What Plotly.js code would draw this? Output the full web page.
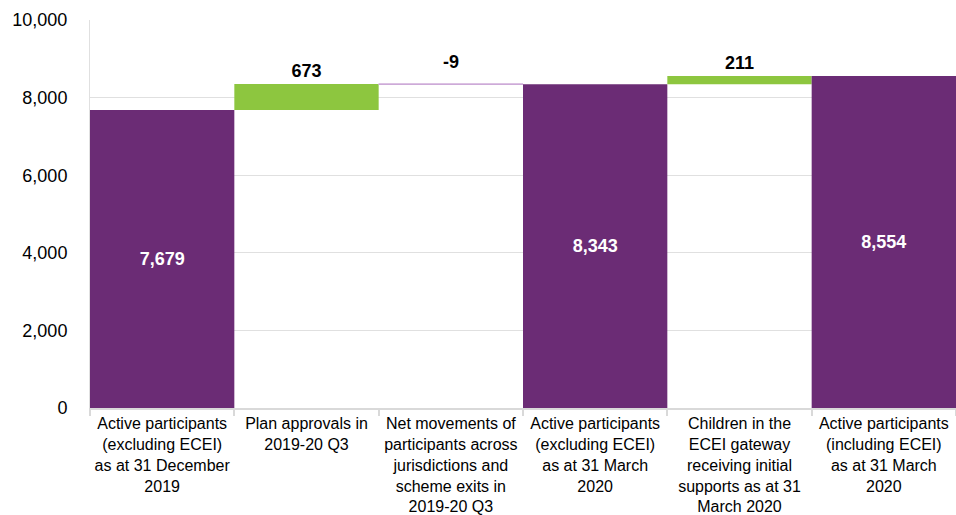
<!DOCTYPE html>
<html>
<head>
<meta charset="utf-8">
<script src="https://cdn.plot.ly/plotly-3.0.1.min.js"></script>
<style>html,body{margin:0;padding:0;background:#fff;}#chart{width:956px;height:515px;}</style>
</head>
<body>
<div id="chart"></div>
<script>
const categories = [
  "Active participants<br>(excluding ECEI)<br>as at 31 December<br>2019",
  "Plan approvals in<br>2019-20 Q3",
  "Net movements of<br>participants across<br>jurisdictions and<br>scheme exits in<br>2019-20 Q3",
  "Active participants<br>(excluding ECEI)<br>as at 31 March<br>2020",
  "Children in the<br>ECEI gateway<br>receiving initial<br>supports as at 31<br>March 2020",
  "Active participants<br>(including ECEI)<br>as at 31 March<br>2020"
];
const measures = ["absolute", "relative", "relative", "total", "relative", "total"];
const values = [7679, 673, -9, 0, 211, 0];
const labels = ["7,679", "673", "-9", "8,343", "211", "8,554"];

// running level before each bar (used to place the label of the decrease above its bar)
const startLevels = [];
let run = 0;
for (let i = 0; i < values.length; i++) {
  startLevels.push(run);
  if (measures[i] === "absolute") run = values[i];
  else if (measures[i] === "relative") run += values[i];
}

const textPositions = measures.map((m) => (m === "relative" ? "outside" : "inside"));
const barText = labels.map((t, i) => (values[i] < 0 ? "" : t));

const FONT = "Liberation Sans, Arial, sans-serif";

const trace = {
  type: "waterfall",
  x: categories,
  y: values,
  measure: measures,
  text: barText,
  textinfo: "text",
  textposition: textPositions,
  insidetextanchor: "middle",
  insidetextfont: {family: FONT, size: 18, color: "#ffffff", weight: "bold"},
  outsidetextfont: {family: FONT, size: 18, color: "#000000", weight: "bold"},
  textfont: {family: FONT, size: 18, weight: "bold"},
  cliponaxis: false,
  increasing: {marker: {color: "#8dc63f"}},
  decreasing: {marker: {color: "#c9a3d4", line: {color: "#c9a3d4", width: 1}}},
  totals: {marker: {color: "#6b2c75"}},
  connector: {visible: false},
  hoverinfo: "none"
};

const annotations = [];
values.forEach((v, i) => {
  if (measures[i] === "relative" && v < 0) {
    annotations.push({
      x: categories[i],
      y: startLevels[i],
      xref: "x",
      yref: "y",
      text: labels[i],
      showarrow: false,
      yanchor: "bottom",
      yshift: 10,
      font: {family: FONT, size: 18, color: "#000000", weight: "bold"}
    });
  }
});

const layout = {
  width: 956,
  height: 515,
  margin: {l: 90, r: 0, t: 20, b: 107},
  paper_bgcolor: "#ffffff",
  plot_bgcolor: "#ffffff",
  showlegend: false,
  waterfallgap: 0,
  font: {family: FONT, size: 16, color: "#000000"},
  annotations: annotations,
  xaxis: {
    type: "category",
    showline: true,
    linecolor: "#d9d9d9",
    linewidth: 2,
    ticks: "outside",
    tickson: "boundaries",
    ticklen: 6,
    tickcolor: "#d9d9d9",
    tickwidth: 2,
    tickfont: {family: FONT, size: 16, color: "#000000"},
    tickangle: 0,
    showgrid: false
  },
  yaxis: {
    range: [0, 10000],
    dtick: 2000,
    tickformat: ",",
    showgrid: true,
    gridcolor: "#e0e0e0",
    gridwidth: 1,
    zeroline: false,
    showline: true,
    linecolor: "#e0e0e0",
    linewidth: 1,
    ticks: "",
    ticklabelstandoff: 18,
    tickfont: {family: FONT, size: 18, color: "#000000"}
  }
};

Plotly.newPlot("chart", [trace], layout, {displayModeBar: false, staticPlot: true});
</script>
</body>
</html>
